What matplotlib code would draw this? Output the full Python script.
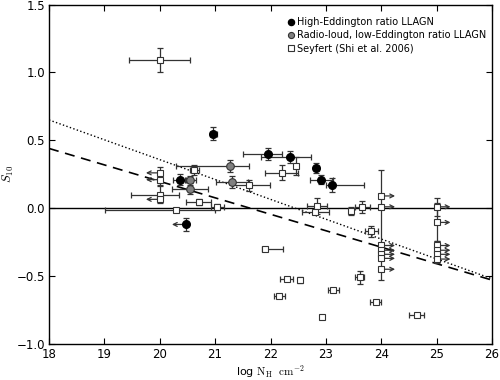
import matplotlib
matplotlib.use('Agg')
import matplotlib.pyplot as plt
import numpy as np

plt.rcParams['mathtext.fontset'] = 'cm'
plt.rcParams['font.family'] = 'DejaVu Sans'

# High-Eddington ratio LLAGN (black circles)
he_x = [20.97, 21.96, 22.35, 22.83, 22.92, 23.11, 20.36]
he_y = [0.55, 0.40, 0.375, 0.295, 0.21, 0.17, 0.21]
he_xlo = [0.07, 0.45, 0.53, 0.05, 0.2, 0.1, 0.12]
he_xhi = [0.07, 0.24, 0.38, 0.05, 0.2, 0.57, 0.12]
he_yerr = [0.045, 0.045, 0.045, 0.035, 0.035, 0.05, 0.04]
# upper limit in N_H
he_lim_x = [20.47]
he_lim_y = [-0.12]
he_lim_yerr = [0.05]

# Radio-loud, low-Eddington ratio LLAGN (grey circles)
rl_x = [21.27, 21.30, 20.55, 20.55]
rl_y = [0.31, 0.19, 0.205, 0.142]
rl_xlo = [0.98, 0.29, 0.1, 0.32]
rl_xhi = [0.34, 0.30, 0.1, 0.32]
rl_yerr = [0.045, 0.045, 0.035, 0.04]

# Seyferts (Shi et al. 2006), detections
sy_x = [20.0, 20.0, 20.62, 21.61, 22.2, 22.46, 20.70, 20.30, 21.04, 22.84,
        22.81, 23.46, 23.66, 21.9, 23.82, 22.29, 22.53, 23.61, 22.16, 23.13,
        23.90, 22.93, 24.64]
sy_y = [1.09, 0.10, 0.28, 0.17, 0.26, 0.31, 0.045, -0.013, 0.01, 0.015,
        -0.03, -0.02, 0.01, -0.30, -0.17, -0.52, -0.53, -0.51, -0.65, -0.60,
        -0.69, -0.80, -0.79]
sy_xlo = [0.55, 0.52, 0.08, 0.30, 0.3, 0.0, 0.23, 1.29, 0.12, 0.18,
          0.25, 0.02, 0.13, 0.05, 0.12, 0.12, 0.02, 0.08, 0.1, 0.1,
          0.1, 0.02, 0.14]
sy_xhi = [0.55, 0.35, 0.08, 0.38, 0.3, 0.0, 0.23, 0.70, 0.12, 0.18,
          0.25, 0.02, 0.13, 0.32, 0.12, 0.12, 0.02, 0.08, 0.1, 0.1,
          0.1, 0.02, 0.14]
sy_yerr = [0.09, 0.06, 0.035, 0.04, 0.055, 0.065, 0.02, 0.0, 0.02, 0.06,
           0.0, 0.03, 0.045, 0.0, 0.04, 0.0, 0.02, 0.05, 0.0, 0.0,
           0.0, 0.0, 0.0]

# Seyferts with limits on N_H (-1 upper limit, +1 lower limit)
syl_x = [20.0, 20.0, 20.0, 24.0, 24.0, 24.0, 24.0, 24.0, 24.0, 24.0,
         25.0, 25.0, 25.0, 25.0, 25.0, 25.0]
syl_y = [0.26, 0.21, 0.065, 0.09, 0.01, -0.275, -0.31, -0.34, -0.37, -0.45,
         0.01, -0.105, -0.275, -0.31, -0.34, -0.375]
syl_yerr = [0.04, 0.04, 0.0, 0.0, 0.27, 0.0, 0.0, 0.0, 0.0, 0.08,
            0.065, 0.14, 0.03, 0.0, 0.0, 0.03]
syl_dir = [-1, -1, -1, 1, 1, 1, 1, 1, 1, 1,
           1, 1, 1, 1, 1, 1]

# correlation lines (values at x=18 and x=26)
fit_x = [18, 26]
fit_dotted = [0.65, -0.52]
fit_dashed = [0.44, -0.53]

ARROW = 0.25
ebkw = dict(fmt='none', ecolor='#333333', elinewidth=0.9, capsize=2.5, capthick=0.9, zorder=2)

fig = plt.figure(figsize=(5.0, 3.8), dpi=100)
ax = fig.add_axes([0.098, 0.095, 0.886, 0.893])

ax.axhline(0, color='k', lw=1.0, zorder=1)
ax.plot(fit_x, fit_dotted, color='k', ls=':', lw=1.0, zorder=1)
ax.plot(fit_x, fit_dashed, color='k', ls=(0, (6, 4)), lw=1.2, zorder=1)

# error bars
ax.errorbar(sy_x, sy_y, xerr=[sy_xlo, sy_xhi], yerr=sy_yerr, **ebkw)
ax.errorbar(syl_x, syl_y, yerr=syl_yerr, **ebkw)
ax.errorbar(rl_x, rl_y, xerr=[rl_xlo, rl_xhi], yerr=rl_yerr, **ebkw)
ax.errorbar(he_x, he_y, xerr=[he_xlo, he_xhi], yerr=he_yerr, **ebkw)
ax.errorbar(he_lim_x, he_lim_y, yerr=he_lim_yerr, **ebkw)

# limit arrows
arw = dict(arrowstyle='->', lw=0.9, color='#333333', mutation_scale=7, shrinkA=0, shrinkB=0)
for x, y, d in zip(syl_x, syl_y, syl_dir):
    ax.annotate('', xy=(x + d * ARROW, y), xytext=(x, y), arrowprops=arw, zorder=2)
for x, y in zip(he_lim_x, he_lim_y):
    ax.annotate('', xy=(x - ARROW, y), xytext=(x, y), arrowprops=arw, zorder=2)

# markers
ax.plot(he_x + he_lim_x, he_y + he_lim_y, 'o', color='k', ms=5.5, ls='none',
        zorder=4, label='High-Eddington ratio LLAGN')
ax.plot(rl_x, rl_y, 'o', mfc='#808080', mec='#333333', mew=0.8, ms=5.5, ls='none',
        zorder=4, label='Radio-loud, low-Eddington ratio LLAGN')
ax.plot(sy_x + syl_x, sy_y + syl_y, 's', mfc='white', mec='#333333', mew=0.8, ms=5,
        ls='none', zorder=3, label='Seyfert (Shi et al. 2006)')

ax.set_xlim(18, 26)
ax.set_ylim(-1.0, 1.5)
ax.set_xticks(np.arange(18, 27, 1))
ax.set_yticks(np.arange(-1.0, 1.51, 0.5))
ax.tick_params(direction='in', top=True, right=True, labelsize=8.5, length=4, width=0.8)
ax.tick_params(axis='y', pad=3)
ax.tick_params(axis='x', pad=3)
for s in ax.spines.values():
    s.set_linewidth(1.0)

ax.set_xlabel(r'log $\mathrm{N_H\ \ cm^{-2}}$', fontsize=8)
ax.set_ylabel(r'$S_{10}$', fontsize=9)
ax.xaxis.set_label_coords(0.5, -0.058)
ax.yaxis.set_label_coords(-0.075, 0.5)

leg = ax.legend(loc='upper right', frameon=False, numpoints=1, fontsize=7,
                handlelength=0.6, handletextpad=0.3, markerscale=0.8,
                labelspacing=0.35, borderaxespad=0.0, bbox_to_anchor=(0.995, 0.975))

fig.savefig('out.png', dpi=100)
